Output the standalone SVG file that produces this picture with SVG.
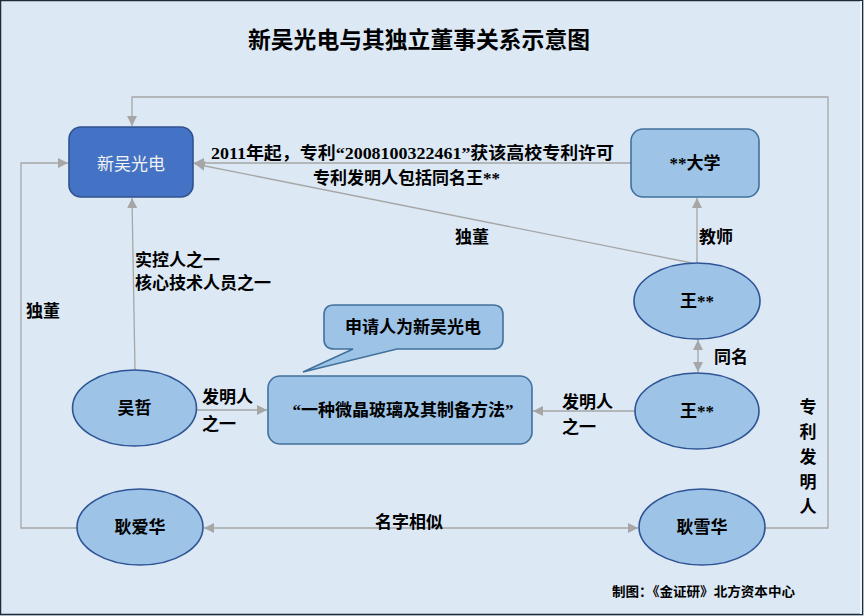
<svg xmlns="http://www.w3.org/2000/svg" width="864" height="616" viewBox="0 0 864 616">
<style>
.t{font-family:"Liberation Serif","Noto Sans CJK SC",serif;font-weight:bold;fill:#000;}
.lbl{font-size:17px;}
.ctr{text-anchor:middle;dominant-baseline:central;}
.node{fill:#9dc3e6;stroke:#2f5496;stroke-width:1.6;}
.box{fill:#9dc3e6;stroke:#41719c;stroke-width:1.6;}
.cn{fill:none;stroke:#a6a6a6;stroke-width:1.3;}
</style>
<defs>
<marker id="ah" viewBox="0 0 10 10" refX="10" refY="5" markerWidth="10" markerHeight="10" markerUnits="userSpaceOnUse" orient="auto-start-reverse">
<path d="M0,0 L10,5 L0,10 Z" fill="#a6a6a6"/>
</marker>
</defs>
<rect x="0" y="0" width="864" height="616" fill="#dce9f5"/>
<rect x="0.5" y="0.5" width="862" height="614" fill="none" stroke="#1f2a38" stroke-width="1.5"/>
<line x1="861" y1="1" x2="861" y2="614" stroke="#eef3f8" stroke-width="2"/>
<text class="t ctr" x="419" y="40" font-size="23" font-weight="900" textLength="342" lengthAdjust="spacingAndGlyphs">新吴光电与其独立董事关系示意图</text>

<g id="connectors">
<line class="cn" x1="692" y1="263" x2="195" y2="164" marker-end="url(#ah)"/>
<line class="cn" x1="631" y1="163" x2="194" y2="163" marker-end="url(#ah)"/>
<line class="cn" x1="697" y1="263" x2="697" y2="198" marker-end="url(#ah)"/>
<line class="cn" x1="698" y1="340" x2="698" y2="372" marker-start="url(#ah)" marker-end="url(#ah)"/>
<line class="cn" x1="635" y1="411" x2="533" y2="411" marker-end="url(#ah)"/>
<line class="cn" x1="197" y1="410" x2="267" y2="410" marker-end="url(#ah)"/>
<line class="cn" x1="135" y1="370" x2="132" y2="198" marker-end="url(#ah)"/>
<polyline class="cn" points="77,528 21,528 21,163 68,163" marker-end="url(#ah)"/>
<polyline class="cn" points="765,528 828,528 828,97 132,97 132,126" marker-end="url(#ah)"/>
<line class="cn" x1="204" y1="528" x2="638" y2="528" marker-start="url(#ah)" marker-end="url(#ah)"/>
<text class="t lbl" x="211" y="159" textLength="403" lengthAdjust="spacingAndGlyphs">2011年起，专利“2008100322461”获该高校专利许可</text>
<text class="t lbl" x="313" y="184">专利发明人包括同名王**</text>
<text class="t lbl" x="455" y="243">独董</text>
<text class="t lbl" x="699" y="243">教师</text>
<text class="t lbl" x="135" y="266">实控人之一</text>
<text class="t lbl" x="135" y="289">核心技术人员之一</text>
<text class="t lbl" x="26" y="317">独董</text>
<text class="t lbl" x="714" y="363">同名</text>
<text class="t lbl" x="202" y="403">发明人</text>
<text class="t lbl" x="202" y="430">之一</text>
<text class="t lbl" x="562" y="408">发明人</text>
<text class="t lbl" x="562" y="433">之一</text>
<text class="t lbl" x="375" y="528">名字相似</text>
<g class="t lbl" text-anchor="middle">
<text x="808" y="413">专</text>
<text x="808" y="438">利</text>
<text x="808" y="463">发</text>
<text x="808" y="488">明</text>
<text x="808" y="513">人</text>
</g>
</g>

<g id="n-xinwu">
<rect x="69" y="127" width="124" height="70" rx="12" fill="#4472c4" stroke="#2f528f" stroke-width="1.6"/>
<text class="ctr" x="131" y="162" font-family="'Noto Sans CJK SC',sans-serif" font-size="17" fill="#f2f2f2">新吴光电</text>
</g>
<g id="n-daxue">
<rect class="box" x="631" y="129" width="128" height="68" rx="12"/>
<text class="t lbl ctr" x="695" y="163">**大学</text>
</g>
<g id="n-wang1">
<ellipse class="node" cx="697" cy="301" rx="63" ry="38"/>
<text class="t lbl ctr" x="697" y="301">王**</text>
</g>
<g id="n-wang2">
<ellipse class="node" cx="697" cy="411" rx="62" ry="38"/>
<text class="t lbl ctr" x="697" y="411">王**</text>
</g>
<g id="n-wuzhe">
<ellipse class="node" cx="134.5" cy="408" rx="62" ry="38"/>
<text class="t lbl ctr" x="134.5" y="408">吴哲</text>
</g>
<g id="n-patent">
<rect class="box" x="268" y="376" width="264" height="68" rx="12"/>
<text class="t lbl ctr" x="403" y="410">“一种微晶玻璃及其制备方法”</text>
</g>
<g id="n-callout">
<path class="box" d="M334,305 H493 Q503,305 503,315 V339 Q503,349 493,349 H397 L303,372 L353,349 H334 Q324,349 324,339 V315 Q324,305 334,305 Z"/>
<text class="t lbl ctr" x="413" y="327">申请人为新吴光电</text>
</g>
<g id="n-gengaihua">
<ellipse class="node" cx="140" cy="527" rx="63" ry="38"/>
<text class="t lbl ctr" x="140" y="527">耿爱华</text>
</g>
<g id="n-gengxuehua">
<ellipse class="node" cx="702" cy="527" rx="63" ry="38"/>
<text class="t lbl ctr" x="702" y="527">耿雪华</text>
</g>
<text class="t" x="612" y="596" font-size="13" textLength="183" lengthAdjust="spacingAndGlyphs">制图：《金证研》北方资本中心</text>
</svg>
